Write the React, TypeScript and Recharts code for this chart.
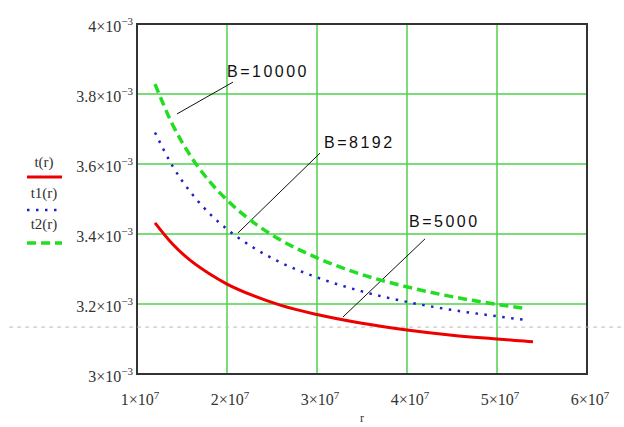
import React from 'react';
import {
  LineChart,
  Line,
  XAxis,
  YAxis,
  CartesianGrid,
  ReferenceArea,
  ReferenceLine,
  ReferenceDot
} from 'recharts';

// r values and the three curves
const rValues = [1.2e7, 1.4e7, 1.6e7, 1.8e7, 2.0e7, 2.3e7, 2.6e7, 3.0e7, 3.5e7, 4.0e7, 4.5e7, 5.0e7, 5.3e7, 5.4e7];
const tValues = [0.003432, 0.00337, 0.003323, 0.003287, 0.003257, 0.003223, 0.003196, 0.00317, 0.003145, 0.003126, 0.003111, 0.0031, 0.003094, 0.003092];
const t1Values = [0.00369, 0.003592, 0.003518, 0.00346, 0.003414, 0.00336, 0.003318, 0.003276, 0.003236, 0.003206, 0.003183, 0.003165, 0.003155, null];
const t2Values = [0.003828, 0.00371, 0.003621, 0.003552, 0.003497, 0.003432, 0.003382, 0.003332, 0.003284, 0.003249, 0.003221, 0.003199, 0.003188, null];

const xTicks = [1e7, 2e7, 3e7, 4e7, 5e7, 6e7];
const yTicks = [0.003, 0.0032, 0.0034, 0.0036, 0.0038, 0.004];

// annotation labels with their leader lines (data coordinates)
const notes = [
  { text: 'B=10000', at: [2.0e7, 0.003849], from: [1.444e7, 0.003743], to: [2.067e7, 0.003834] },
  { text: 'B=8192', at: [3.078e7, 0.003646], from: [2.122e7, 0.003403], to: [3.033e7, 0.003631] },
  { text: 'B=5000', at: [4.022e7, 0.00342], from: [3.289e7, 0.003163], to: [4.2e7, 0.003386] }
];

const series = [
  { key: 't', name: 't(r)', color: '#ee0000', width: 3, dash: undefined as string | undefined },
  { key: 't1', name: 't1(r)', color: '#2020c8', width: 2.5, dash: '2.5 6.5' },
  { key: 't2', name: 't2(r)', color: '#22dd22', width: 3.5, dash: '9 5' }
];

const data = rValues.map((r, i) => ({ r, t: tValues[i], t1: t1Values[i], t2: t2Values[i] }));

const serif = '"Liberation Serif", "Times New Roman", serif';

const YTick = (props: any) => {
  const { x, y, payload } = props;
  const m = +(payload.value * 1e3).toFixed(1);
  return (
    <text x={x - 2} y={y + 8} textAnchor="end" fontFamily={serif} fontSize={16} fill="#333">
      <tspan>{`${m}×10`}</tspan>
      <tspan dy={-7} fontSize={11}>−3</tspan>
    </text>
  );
};

const XTick = (props: any) => {
  const { x, y, payload } = props;
  const m = Math.round(payload.value / 1e7);
  return (
    <text x={x + 3} y={y + 29} textAnchor="middle" fontFamily={serif} fontSize={16} fill="#333">
      <tspan>{`${m}×10`}</tspan>
      <tspan dy={-6} fontSize={11}>7</tspan>
    </text>
  );
};

const LegendBox = () => (
  <svg width={90} height={110} style={{ position: 'absolute', left: 0, top: 150 }}>
    {series.map((s, i) => {
      const top = i * 31;
      const ly = top + 27 + i * 2;
      return (
        <g key={s.key}>
          <text x={44} y={top + 17} textAnchor="middle" fontFamily={serif} fontSize={15} fill="#333">
            {s.name}
          </text>
          <line x1={27} x2={62} y1={ly} y2={ly} stroke={s.color} strokeWidth={s.width} strokeDasharray={s.dash} />
        </g>
      );
    })}
  </svg>
);

const NoteText = (text: string) => (p: any) => (
  <text x={p.cx} y={p.cy} fontFamily='"Liberation Sans", Arial, sans-serif' fontSize={16} letterSpacing={2.5} fill="#111">
    {text}
  </text>
);

export default function App() {
  return (
    <div style={{ position: 'absolute', left: 0, top: 0, width: 624, height: 427, background: '#fff' }}>
      <LineChart width={624} height={427} data={data} margin={{ top: 24, right: 37, left: 0, bottom: 0 }}>
        <CartesianGrid stroke="#4ed24e" strokeWidth={1.5} />
        <XAxis
          dataKey="r"
          type="number"
          domain={[1e7, 6e7]}
          ticks={xTicks}
          height={53}
          axisLine={false}
          tickLine={false}
          tickSize={0}
          tick={<XTick />}
          interval={0}
          label={(p: any) => (
            <text x={p.viewBox.x + p.viewBox.width / 2} y={p.viewBox.y + 48} textAnchor="middle" fontFamily={serif} fontSize={12} fill="#333">
              r
            </text>
          )}
        />
        <YAxis
          type="number"
          domain={[0.003, 0.004]}
          ticks={yTicks}
          width={137}
          axisLine={false}
          tickLine={false}
          tickSize={0}
          tick={<YTick />}
          interval={0}
        />
        <ReferenceArea x1={1e7} x2={6e7} y1={0.003} y2={0.004} fill="none" stroke="#333" strokeWidth={2} />
        <ReferenceLine
          segment={[{ x: -0.42e7, y: 0.003134 }, { x: 6.42e7, y: 0.003134 }]}
          stroke="#bbb"
          strokeDasharray="4 4"
          ifOverflow="visible"
        />
        {notes.map((n) => (
          <ReferenceLine
            key={n.text + 'l'}
            segment={[{ x: n.from[0], y: n.from[1] }, { x: n.to[0], y: n.to[1] }]}
            stroke="#111"
            strokeWidth={1}
          />
        ))}
        {notes.map((n) => (
          <ReferenceDot key={n.text} x={n.at[0]} y={n.at[1]} r={0} shape={NoteText(n.text)} />
        ))}
        {series.map((s) => (
          <Line
            key={s.key}
            name={s.name}
            dataKey={s.key}
            type="monotone"
            stroke={s.color}
            strokeWidth={s.width}
            strokeDasharray={s.dash}
            dot={false}
            isAnimationActive={false}
          />
        ))}
      </LineChart>
      <LegendBox />
    </div>
  );
}
